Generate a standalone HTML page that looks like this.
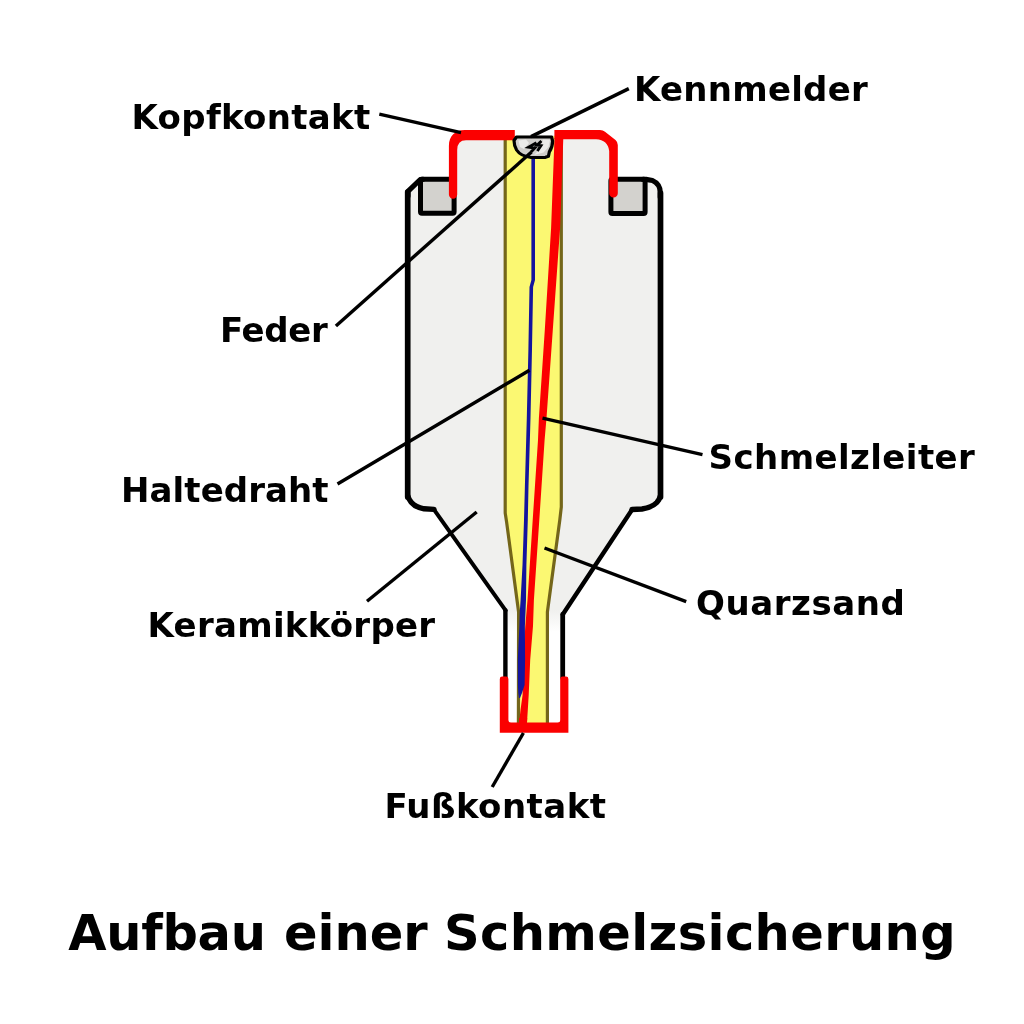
<!DOCTYPE html>
<html lang="de">
<head>
<meta charset="utf-8">
<title>Aufbau einer Schmelzsicherung</title>
<style>
html,body{margin:0;padding:0;background:#fff;}
body{width:1024px;height:1024px;overflow:hidden;}
svg{display:block;will-change:transform;}
text{font-family:"DejaVu Sans","Liberation Sans",sans-serif;font-weight:bold;fill:#000;}
.lbl{font-size:34px;}
.ttl{font-size:49.5px;}
.ptr{stroke:#000;stroke-width:3.4;fill:none;stroke-linecap:butt;}
.out{stroke:#000;fill:none;stroke-linejoin:round;stroke-linecap:round;}
.box{fill:#d3d2ce;stroke:#000;stroke-width:5;stroke-linejoin:round;}
.red{fill:#fb0000;}
.olive{fill:none;stroke:#74661a;stroke-width:3.2;stroke-linejoin:round;}
</style>
</head>
<body>
<svg width="1024" height="1024" viewBox="0 0 1024 1024">
<defs>
<linearGradient id="neck" gradientUnits="userSpaceOnUse" x1="0" y1="610" x2="0" y2="632">
<stop offset="0" stop-color="#f0f0ee"/><stop offset="1" stop-color="#ffffff"/>
</linearGradient>
</defs>
<rect x="0" y="0" width="1024" height="1024" fill="#ffffff"/>

<!-- Keramikkörper: fill -->
<path id="bodyfill" fill="#f0f0ee" d="M505.4,612 L505.4,610.5 L433.8,509.4 L424,508.8 Q415.5,507.3 411.2,502.2 Q407.7,498 407.7,493.5 L407.7,191.5 L420.5,179.2 L453,179.2 L453,145 Q453,135 463,135 L598,135 Q613,137 613.5,150 L613.5,179.2 L646,179.2 L652.5,180.2 C657.5,182.5 660.5,187 660.5,192 L660.5,493.5 Q660.5,498.3 656.8,502.5 Q652,507.5 642,509 L632,509.5 L563.4,614.5 L562.7,614.5 L562.7,612 Z"/>
<rect id="neckfill" x="505.4" y="610" width="57.3" height="114" fill="url(#neck)"/>

<!-- Quarzsand -->
<path id="sand" fill="#fbf872" d="M505.2,136 L505.2,513 L506.6,522 L518.6,612 L518.4,724 L547.4,724 L547.4,612 L559.8,520 L561.3,507 L561.3,136 Z"/>
<path id="sandL" class="olive" d="M505.2,138 L505.2,513 L506.6,522 L518.6,612 L518.4,724"/>
<path id="sandR" class="olive" d="M561.3,138 L561.3,507 L559.8,520 L547.4,612 L547.4,724"/>

<!-- notches -->
<rect class="box" x="420.5" y="179.2" width="33.6" height="34.1" rx="1.5"/>
<rect class="box" x="610.9" y="179.2" width="34.2" height="34.2" rx="1.5"/>

<!-- Keramikkörper: outline -->
<path class="out" stroke-width="4.4" stroke-linecap="butt" d="M505.4,678 L505.4,610.5"/>
<path class="out" stroke-width="4" d="M505.6,610.3 L434,509.6"/>
<path class="out" stroke-width="5.4" d="M434,509.4 L424,508.8 Q415.5,507.3 411.2,502.2 Q408.6,499 407.9,496"/>
<path class="out" stroke-width="5.7" stroke-linecap="butt" d="M407.7,497 L407.7,192"/>
<path class="out" stroke-width="5.2" stroke-linecap="butt" d="M407.95,196 L407.95,191.4 L420.3,179.5 L423,179.3"/>
<path class="out" stroke-width="4.8" stroke-linecap="butt" d="M562.7,678 L562.7,614.5"/>
<path class="out" stroke-width="4.4" d="M562.9,614.3 L632,509.7"/>
<path class="out" stroke-width="5.4" d="M632,509.5 L642,509 Q652,507.5 656.8,502.5 Q659.5,499.5 660.3,496"/>
<path class="out" stroke-width="5.7" stroke-linecap="butt" d="M660.5,497 L660.5,193"/>
<path class="out" stroke-width="5.2" stroke-linecap="butt" d="M660.25,197 L660.25,192.5 C660.25,187 657.5,182.8 652.5,180.5 L646,179.4 L643,179.3"/>

<!-- Schmelzleiter -->
<path id="fusewire" class="red" d="M563.3,138.0 L560.1,228.0 L552.8,330.0 L546.5,418.0 L544.6,440.0 L539.3,520.0 L533.9,600.0 L533.0,626.0 L530.2,660.0 L528.7,695.0 L527.8,710.0 L526.9,724.0 L519.0,724.0 L520.5,710.0 L522.6,695.0 L523.3,660.0 L525.3,626.0 L527.5,600.0 L532.7,520.0 L538.0,440.0 L538.9,418.0 L544.8,330.0 L551.1,228.0 L554.5,138.0 Z"/>

<!-- Haltedraht -->
<path id="blue" fill="#14149e" d="M535.0,156.0 L535.0,280.0 L533.1,287.0 L532.0,349.0 L530.5,418.0 L528.5,486.0 L527.8,520.0 L526.4,565.0 L526.0,600.0 L525.5,612.0 L524.9,626.0 L525.1,660.0 L524.6,685.0 L522.0,693.0 L520.0,698.0 L519.0,698.0 L518.3,693.0 L517.9,685.0 L517.8,660.0 L519.4,626.0 L519.8,612.0 L520.6,600.0 L522.5,565.0 L524.0,520.0 L524.9,486.0 L526.8,418.0 L528.4,349.0 L529.5,287.0 L531.4,280.0 L531.4,156.0 Z"/>

<!-- Kopfkontakt -->
<path id="headL" class="red" d="M448.9,194.6 L448.9,146 C448.9,136 455,130.1 465,130.1 L514.8,130.1 L514.8,140.2 L466,140.2 Q457.2,140.2 457.2,150 L457.2,194.6 A4.15,4.15 0 0 1 448.9,194.6 Z"/>
<path id="headR" class="red" d="M554.4,130 L600,130 Q603,130.2 605,131.8 L615.5,140 Q617.8,142 617.8,145 L617.8,193.3 A4.3,4.3 0 0 1 609.2,193.3 L609.2,151 Q608,140 596,139.2 L554.4,139.2 Z"/>

<!-- Fußkontakt -->
<path id="foot" class="red" d="M499.8,679 Q499.8,676.6 502.2,676.6 L506,676.6 Q508.4,676.6 508.4,679 L508.4,720 Q508.4,722.5 511,722.5 L557.6,722.5 Q560.2,722.5 560.2,720 L560.2,679 Q560.2,676.6 562.6,676.6 L566,676.6 Q568.4,676.6 568.4,679 L568.4,732.8 L499.8,732.8 Z"/>
<path class="red" d="M519,718 L527.2,718 L526.9,724 L519,724 Z"/>

<!-- Kennmelder with Feder -->
<path id="kenn" fill="#d0cecb" stroke="#000" stroke-width="3.2" stroke-linejoin="round" d="M516.5,137 L551.6,137 L552.6,141 Q552.6,147 549.3,152 L548.4,156.3 L545.5,157.3 L531,157.5 Q520.5,156 516.6,150 Q514,145.5 514,140.5 Z"/>
<path fill="#ecebe9" d="M518.5,140.5 L526,139.5 L529,143 L524,149 L520,147 Z M543,139.5 L550,140 L548.5,147 L543.5,152.5 L534,155 L540,149 Z"/>
<path id="spring" fill="none" stroke="#000" stroke-width="2.8" stroke-linejoin="miter" d="M536.4,142.6 L528.6,147.2 L534.8,148 L531,152 M541.4,141 L537,145.2 L541,145.6 L537.4,151"/>

<!-- pointer lines -->
<path class="ptr" d="M379.3,114.2 L461,132.6"/>
<path class="ptr" d="M628.8,88.6 L531,136.6"/>
<path class="ptr" d="M335.9,326 L531.5,152"/>
<path class="ptr" d="M337.5,484 L529.5,370.3"/>
<path class="ptr" d="M367,601.2 L476.7,512"/>
<path class="ptr" d="M702.5,454.7 L542.5,418.2"/>
<path class="ptr" d="M686.2,601.6 L544.5,548"/>
<path class="ptr" d="M523.4,733 L492.2,787"/>

<!-- labels -->
<text id="l1" class="lbl" x="131.50" y="128.5" letter-spacing="0.325">Kopfkontakt</text>
<text id="l2" class="lbl" x="634.00" y="100.7" letter-spacing="0.25">Kennmelder</text>
<text id="l3" class="lbl" x="220.00" y="341.7" letter-spacing="-0.312">Feder</text>
<text id="l4" class="lbl" x="121.00" y="501.5" letter-spacing="0.083">Haltedraht</text>
<text id="l5" class="lbl" x="147.60" y="636.9" letter-spacing="0.275">Keramikkörper</text>
<text id="l6" class="lbl" x="708.60" y="468.7" letter-spacing="0.417">Schmelzleiter</text>
<text id="l7" class="lbl" x="696.00" y="615" letter-spacing="0.575">Quarzsand</text>
<text id="l8" class="lbl" x="384.40" y="817.8" letter-spacing="0.45">Fußkontakt</text>
<text id="l9" class="ttl" y="950"><tspan x="68.2" letter-spacing="-0.28">Aufbau </tspan><tspan x="284.0" letter-spacing="0.0">einer </tspan><tspan x="444.0" letter-spacing="0.367">Schmelzsicherung</tspan></text>
</svg>
</body>
</html>
